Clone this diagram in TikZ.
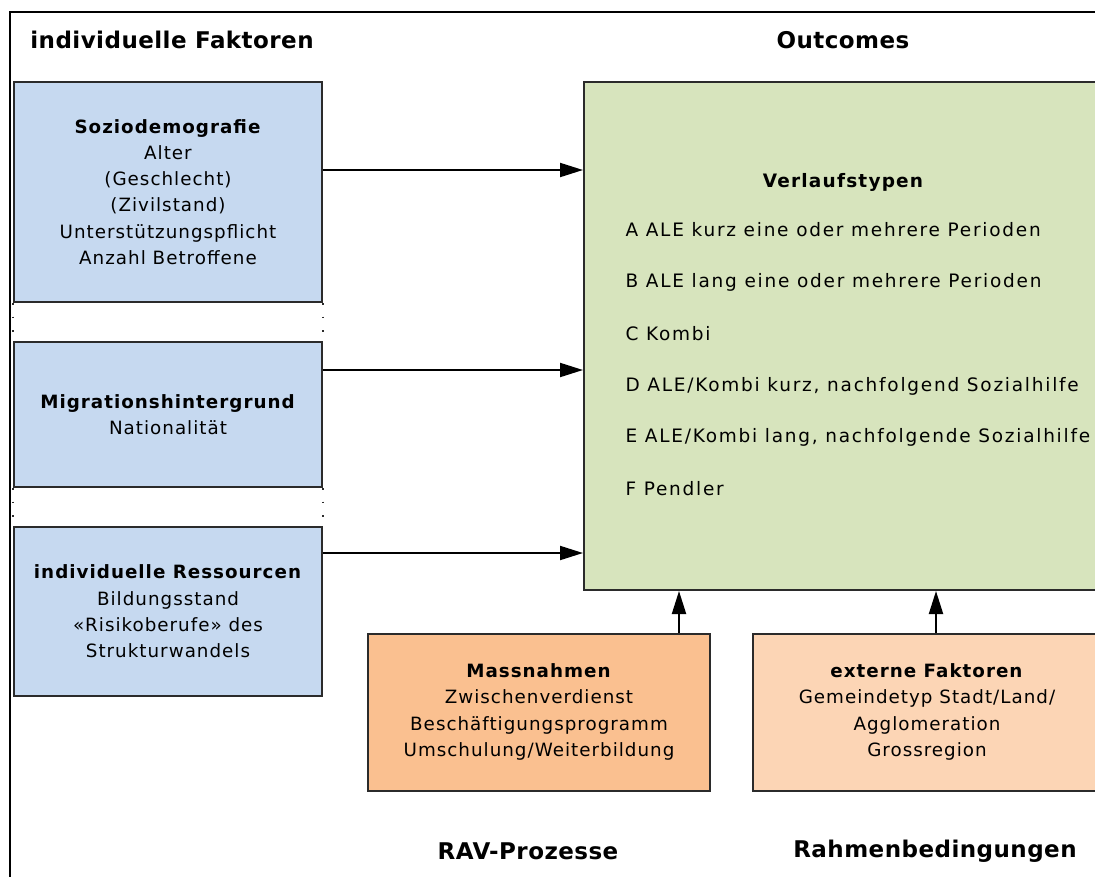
\documentclass[tikz,border=0pt]{standalone}
\usepackage{fontspec}
\setmainfont{DejaVu Sans}
\newfontfamily\boxfont[LetterSpace=5.5]{DejaVu Sans}
\newfontfamily\itemfont[LetterSpace=9.5]{DejaVu Sans}
\newfontfamily\headfont[LetterSpace=6.5]{DejaVu Sans}
\newfontfamily\titlefont[LetterSpace=2]{DejaVu Sans}
\usetikzlibrary{arrows.meta}
\definecolor{bluefill}{HTML}{C6D9F0}
\definecolor{greenfill}{HTML}{D7E4BD}
\definecolor{orangefill}{HTML}{FAC090}
\definecolor{peachfill}{HTML}{FCD5B5}
\definecolor{edge}{HTML}{2B2B2B}
\tikzset{
  box/.style={draw=edge, line width=2pt, inner sep=0pt, align=center,
    font=\boxfont\fontsize{18.3}{26.3}\selectfont},
  arr/.style={line width=2pt, -{Triangle[length=23pt,width=14pt]}},
  title/.style={font=\titlefont\fontsize{23}{26}\selectfont\bfseries},
  item/.style={anchor=west, font=\itemfont\fontsize{18.5}{20}\selectfont},
  dots/.style={line width=1.5pt, dash pattern=on 1.5pt off 12pt, edge}
}
\begin{document}
\begin{tikzpicture}[x=1pt,y=-1pt]
\useasboundingbox (0,0) rectangle (1095,876);
\clip (0,0) rectangle (1095,876);
\fill[white] (0,0) rectangle (1095,876);
% outer frame
\draw[line width=1.5pt, black] (10,900) -- (10,12) -- (1120,12);
% titles
\node[title] (t1) at (172,40) {individuelle Faktoren};
\node[title] (t2) at (843,40) {Outcomes};
\node[title] (t3) at (528,851) {RAV-Prozesse};
\node[title] (t4) at (935,851) {Rahmenbedingungen};
% left boxes
\node[box, fill=bluefill, minimum width=308pt, minimum height=220pt] (b1) at (168,192)
  {\textbf{Soziodemografie}\\Alter\\(Geschlecht)\\(Zivilstand)\\Unterstützungspflicht\\Anzahl Betroffene};
\node[box, fill=bluefill, minimum width=308pt, minimum height=145pt] (b2) at (168,414.5)
  {\textbf{Migrationshintergrund}\\Nationalität};
\node[box, fill=bluefill, minimum width=308pt, minimum height=169pt] (b3) at (168,611.5)
  {\textbf{individuelle Ressourcen}\\Bildungsstand\\«Risikoberufe» des\\Strukturwandels};
% dotted connectors between left boxes
\draw[dots] (b1.south west) -- (b2.north west);
\draw[dots] (b1.south east) -- (b2.north east);
\draw[dots] (b2.south west) -- (b3.north west);
\draw[dots] (b2.south east) -- (b3.north east);
% green outcome box
\node[box, fill=greenfill, minimum width=522pt, minimum height=508pt] (g) at (845,336) {};
\node[font=\headfont\fontsize{18.5}{20}\selectfont\bfseries] (vt) at (843,182) {Verlaufstypen};
\node[item] (iA) at (622,230) {A ALE kurz eine oder mehrere Perioden};
\node[item] (iB) at (622,282) {B ALE lang eine oder mehrere Perioden};
\node[item] (iC) at (622,334) {C Kombi};
\node[item] (iD) at (622,386) {D ALE/Kombi kurz, nachfolgend Sozialhilfe};
\node[item] (iE) at (622,437) {E ALE/Kombi lang, nachfolgende Sozialhilfe};
\node[item] (iF) at (622,489) {F Pendler};
% bottom boxes
\node[box, fill=orangefill, minimum width=342pt, minimum height=157pt] (m) at (539,712)
  {\textbf{Massnahmen}\\Zwischenverdienst\\Beschäftigungsprogramm\\Umschulung/Weiterbildung};
\node[box, fill=peachfill, minimum width=348pt, minimum height=157pt] (e) at (927,712)
  {\textbf{externe Faktoren}\\Gemeindetyp Stadt/Land/\\Agglomeration\\Grossregion};
% arrows
\coordinate (y1) at (0,170);
\coordinate (y2) at (0,370);
\coordinate (y3) at (0,553);
\coordinate (xm) at (679,0);
\coordinate (xe) at (936,0);
\draw[arr] (b1.east |- y1) -- (g.west |- y1);
\draw[arr] (b2.east |- y2) -- (g.west |- y2);
\draw[arr] (b3.east |- y3) -- (g.west |- y3);
\draw[arr] (m.north -| xm) -- (g.south -| xm);
\draw[arr] (e.north -| xe) -- (g.south -| xe);
\end{tikzpicture}
\end{document}
